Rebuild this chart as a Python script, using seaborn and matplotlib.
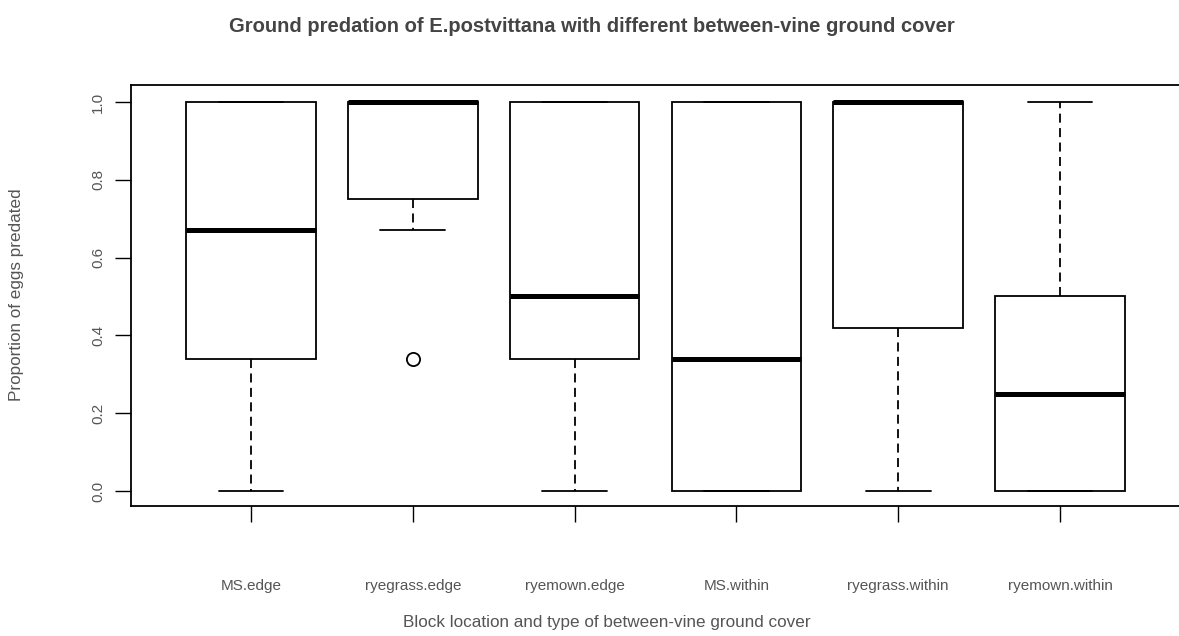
import numpy as np
import pandas as pd
import seaborn as sns
import matplotlib.pyplot as plt

# proportions of eggs predated per block location / ground cover
groups = ['MS.edge', 'ryegrass.edge', 'ryemown.edge', 'MS.within', 'ryegrass.within', 'ryemown.within']
ms_edge = [0, 0.34, 0.34, 0.67, 1, 1, 1]
ryegrass_edge = [0.34, 0.67, 0.75, 1, 1, 1, 1, 1, 1]
ryemown_edge = [0, 0.25, 0.34, 0.5, 0.5, 0.67, 1, 1, 1]
ms_within = [0, 0, 0, 0.34, 0.34, 0.67, 1, 1, 1]
ryegrass_within = [0, 0.25, 0.42, 1, 1, 1, 1, 1, 1]
ryemown_within = [0, 0, 0, 0.25, 0.25, 0.34, 0.5, 0.75, 1]

yticks = [0.0, 0.2, 0.4, 0.6, 0.8, 1.0]

values = [ms_edge, ryegrass_edge, ryemown_edge, ms_within, ryegrass_within, ryemown_within]
df = pd.DataFrame({'group': np.repeat(groups, [len(v) for v in values]),
                   'prop': np.concatenate(values)})

sns.set_style("white")
plt.rcParams['font.family'] = ['Liberation Sans', 'DejaVu Sans']

W, H = 1179, 636
fig = plt.figure(figsize=(W/100, H/100), dpi=100)
ax = fig.add_axes([131/W, 130/H, (1180-131)/W, (506-85)/H])

sns.boxplot(data=df, x='group', y='prop', order=groups, ax=ax,
            color='white', linecolor='black', linewidth=1.3, width=0.8,
            whiskerprops=dict(linestyle=(0, (5, 3))),
            medianprops=dict(linewidth=3.6, solid_capstyle='butt'),
            flierprops=dict(marker='o', markersize=9.5, markerfacecolor='white',
                            markeredgecolor='black', markeredgewidth=1.3))

ax.set_xlim(-0.742, 5.742)
ax.set_ylim(-0.0386, 1.0437)
ax.set_yticks(yticks)
ax.set_yticklabels([f'{t:.1f}' for t in yticks], rotation=90, va='center',
                   color='#555555', fontsize=11)
ax.set_xticklabels(groups, color='#555555', fontsize=11)
ax.tick_params(axis='y', left=True, length=11.5, width=1.0, pad=7, color='black')
ax.tick_params(axis='x', bottom=True, length=11.5, width=1.0, pad=41, color='black')
for s in ax.spines.values():
    s.set_color('black')
    s.set_linewidth(1.3)

ax.set_xlabel('')
ax.set_ylabel('')
fig.text(592/W, 1-27/H, 'Ground predation of E.postvittana with different between-vine ground cover',
         ha='center', va='center', fontsize=14.5, fontweight='bold', color='#444444')
fig.text(607/W, 1-622/H, 'Block location and type of between-vine ground cover',
         ha='center', va='center', fontsize=12.3, color='#555555')
fig.text(17/W, 1-295/H, 'Proportion of eggs predated', rotation=90,
         ha='center', va='center', fontsize=12.3, color='#555555')

fig.savefig('out.png', dpi=100)
